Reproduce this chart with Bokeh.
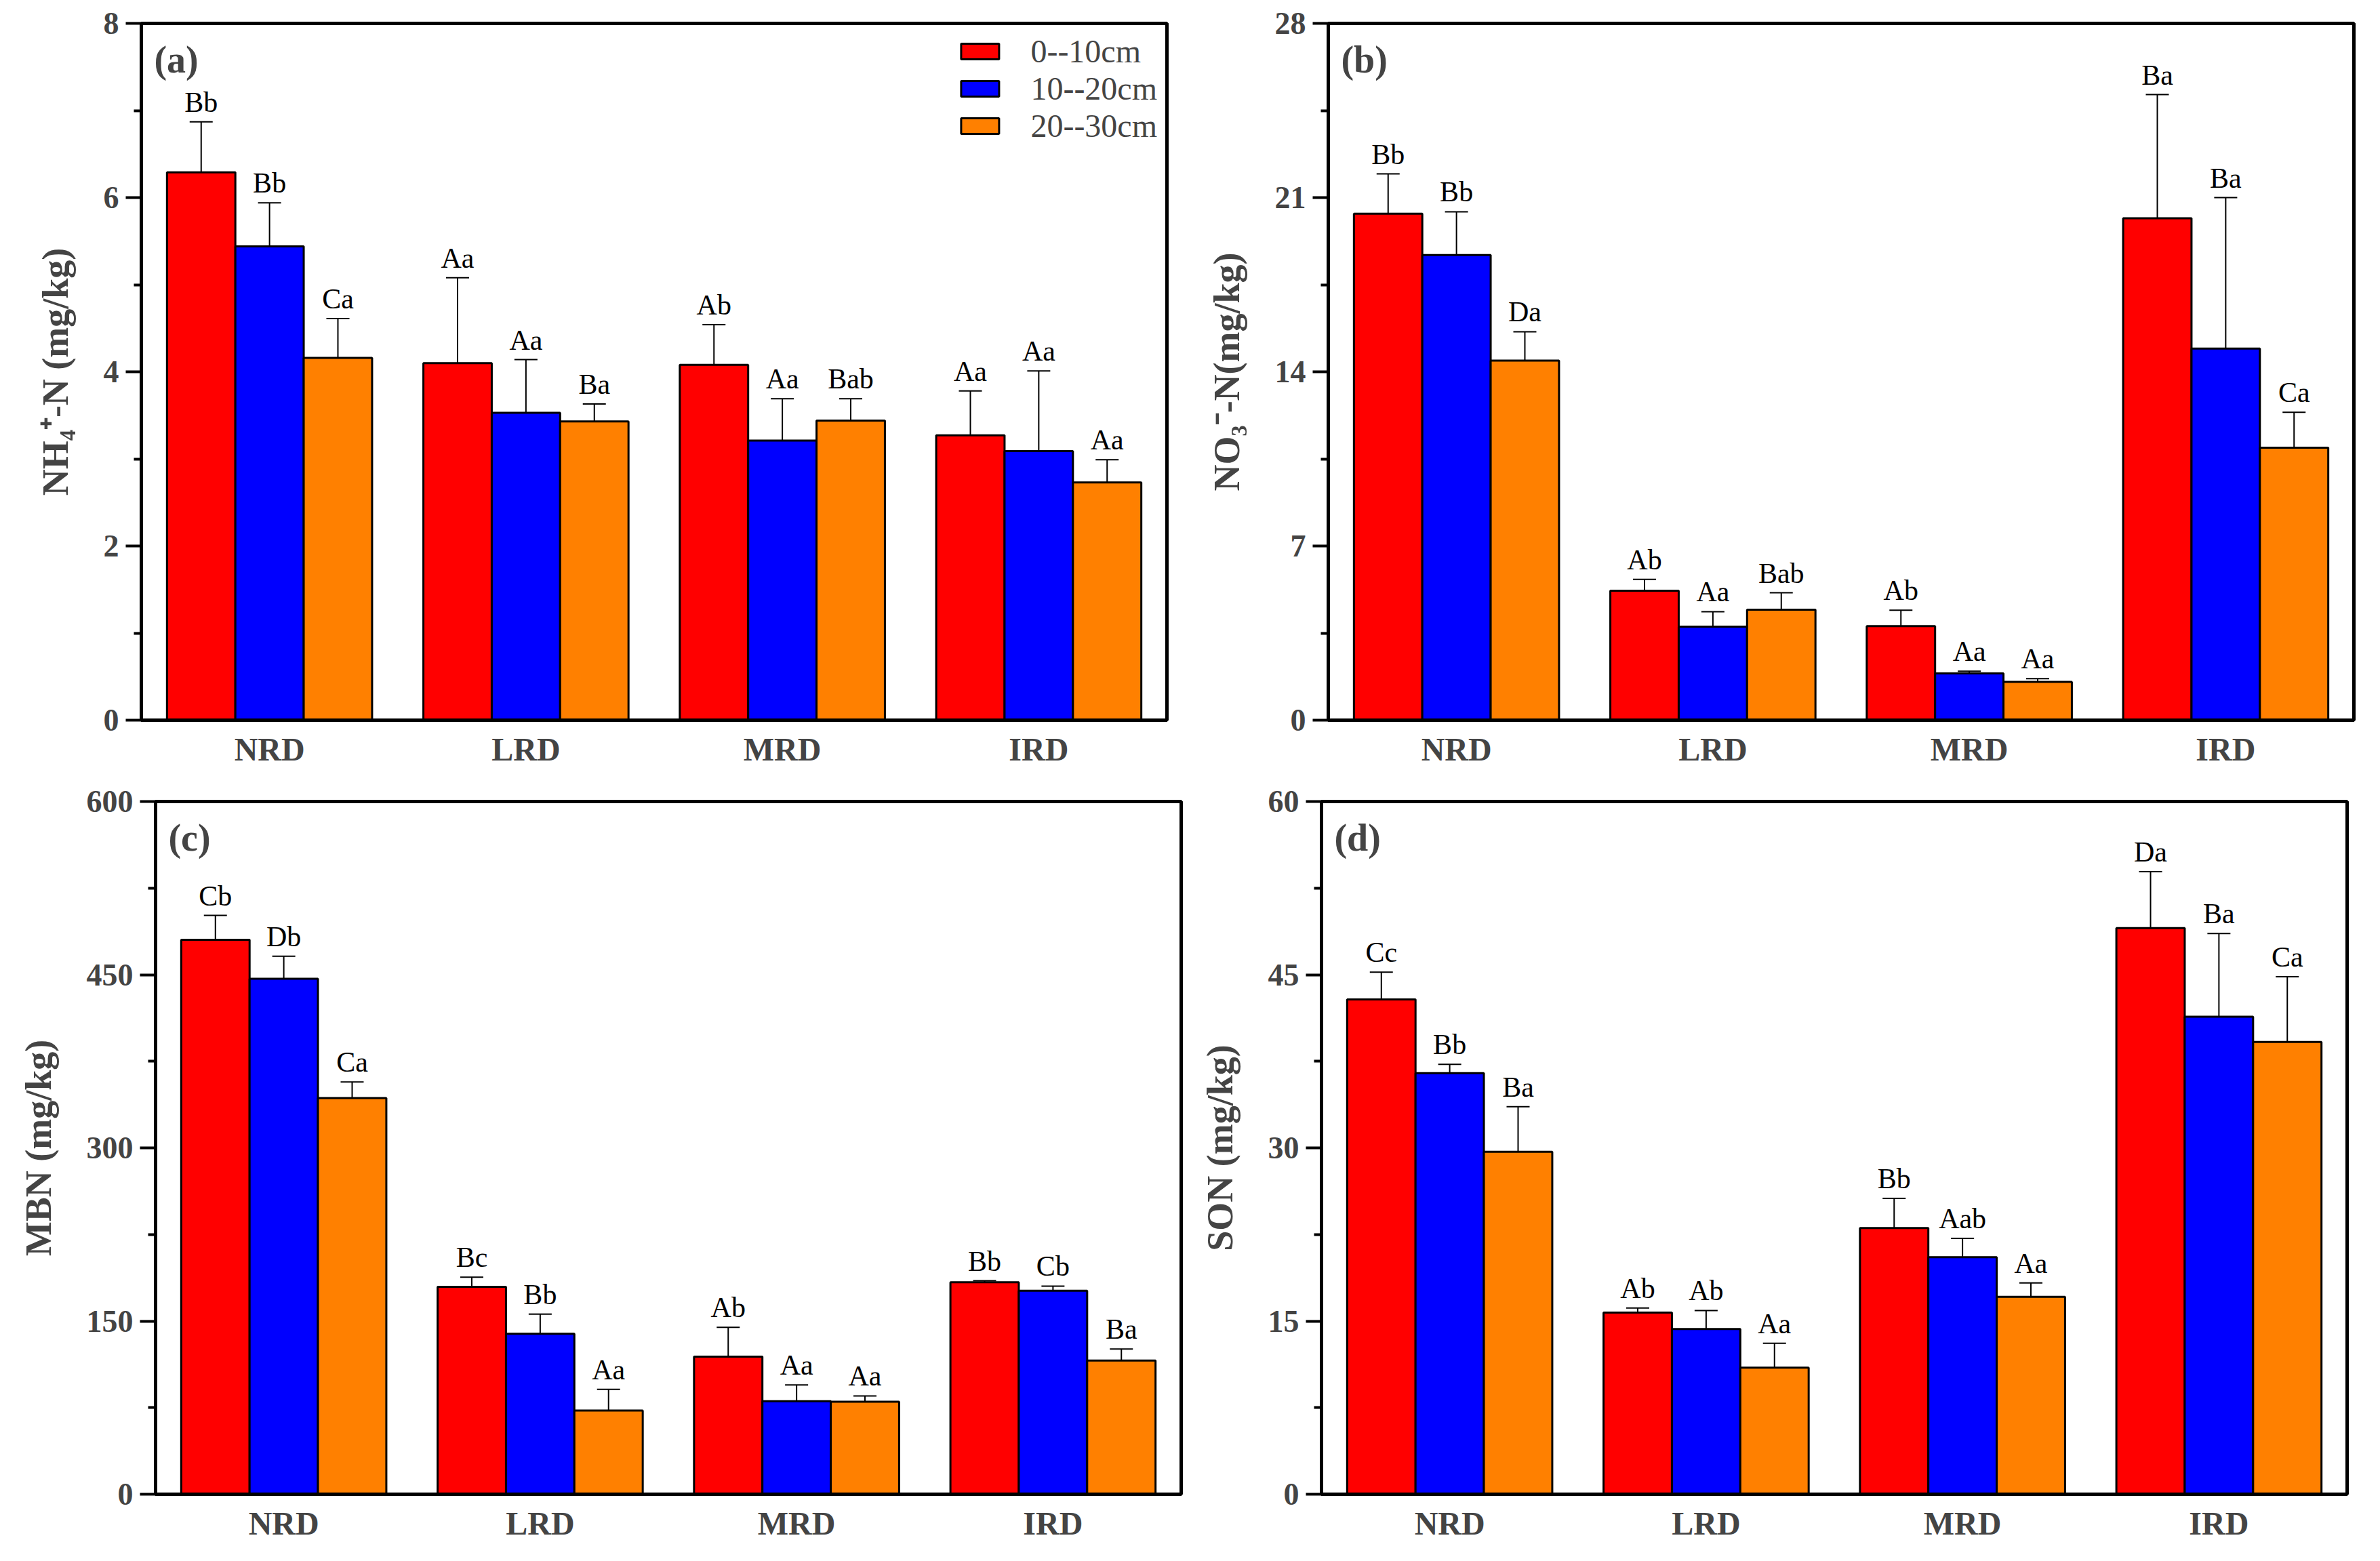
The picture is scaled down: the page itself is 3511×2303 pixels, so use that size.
from bokeh.plotting import figure
from bokeh.models import (Range1d, FixedTicker, ColumnDataSource, Whisker, TeeHead,
                          Label, Legend, LegendItem)
from bokeh.layouts import row, column
from bokeh.embed import file_html
from bokeh.resources import INLINE
from bokeh.core.properties import value

categories = ["NRD", "LRD", "MRD", "IRD"]
depths = ["0--10cm", "10--20cm", "20--30cm"]
colors = ["#FF0000", "#0000FF", "#FF8000"]

# (a) NH4+-N (mg/kg)
nh4_mean_0_10 = [6.29, 4.10, 4.08, 3.27]
nh4_mean_10_20 = [5.44, 3.53, 3.21, 3.09]
nh4_mean_20_30 = [4.16, 3.43, 3.44, 2.73]
nh4_err_0_10 = [0.58, 0.98, 0.46, 0.51]
nh4_err_10_20 = [0.50, 0.61, 0.48, 0.92]
nh4_err_20_30 = [0.45, 0.20, 0.25, 0.26]
nh4_lab_0_10 = ["Bb", "Aa", "Ab", "Aa"]
nh4_lab_10_20 = ["Bb", "Aa", "Aa", "Aa"]
nh4_lab_20_30 = ["Ca", "Ba", "Bab", "Aa"]

# (b) NO3-N (mg/kg)
no3_mean_0_10 = [20.35, 5.20, 3.78, 20.17]
no3_mean_10_20 = [18.69, 3.76, 1.88, 14.93]
no3_mean_20_30 = [14.45, 4.44, 1.54, 10.95]
no3_err_0_10 = [1.60, 0.46, 0.64, 4.97]
no3_err_10_20 = [1.74, 0.60, 0.09, 6.07]
no3_err_20_30 = [1.16, 0.68, 0.13, 1.42]
no3_lab_0_10 = ["Bb", "Ab", "Ab", "Ba"]
no3_lab_10_20 = ["Bb", "Aa", "Aa", "Ba"]
no3_lab_20_30 = ["Da", "Bab", "Aa", "Ca"]

# (c) MBN (mg/kg)
mbn_mean_0_10 = [480.3, 179.7, 119.2, 183.6]
mbn_mean_10_20 = [446.5, 139.0, 80.6, 176.3]
mbn_mean_20_30 = [343.1, 72.5, 80.2, 115.8]
mbn_err_0_10 = [21.0, 8.3, 25.3, 1.3]
mbn_err_10_20 = [19.5, 17.0, 14.0, 4.0]
mbn_err_20_30 = [14.0, 18.4, 5.0, 10.0]
mbn_lab_0_10 = ["Cb", "Bc", "Ab", "Bb"]
mbn_lab_10_20 = ["Db", "Bb", "Aa", "Cb"]
mbn_lab_20_30 = ["Ca", "Aa", "Aa", "Ba"]

# (d) SON (mg/kg)
son_mean_0_10 = [42.86, 15.73, 23.06, 49.03]
son_mean_10_20 = [36.47, 14.31, 20.53, 41.36]
son_mean_20_30 = [29.66, 10.97, 17.10, 39.17]
son_err_0_10 = [2.36, 0.40, 2.57, 4.90]
son_err_10_20 = [0.77, 1.60, 1.63, 7.20]
son_err_20_30 = [3.90, 2.10, 1.20, 5.65]
son_lab_0_10 = ["Cc", "Ab", "Bb", "Da"]
son_lab_10_20 = ["Bb", "Ab", "Aab", "Ba"]
son_lab_20_30 = ["Ba", "Aa", "Aa", "Ca"]

FONT = value("Liberation Serif")


def make_panel(means, errs, labels, ymax, ticks, minor, ylabel, letter,
               borders, frame_h, show_legend=False):
    bl, br, bt, bb = borders
    p = figure(frame_width=1513, frame_height=frame_h,
               min_border_left=bl, min_border_right=br,
               min_border_top=bt, min_border_bottom=bb,
               x_range=Range1d(0.5, 4.5), y_range=Range1d(0, ymax),
               output_backend="svg", toolbar_location=None, tools="")
    p.background_fill_color = "white"
    p.border_fill_color = "white"
    p.outline_line_color = "black"
    p.outline_line_width = 5
    p.xgrid.visible = False
    p.ygrid.visible = False

    w = 0.8 / 3
    renderers = []
    for k in range(3):
        xs = [i + 1 + (k - 1) * w for i in range(len(categories))]
        up = [m + e for m, e in zip(means[k], errs[k])]
        lo = [m - e for m, e in zip(means[k], errs[k])]
        src = ColumnDataSource(dict(x=xs, top=means[k], upper=up, lower=lo,
                                    lab=labels[k]))
        r = p.vbar(x="x", top="top", width=w, source=src, fill_color=colors[k],
                   line_color="black", line_width=3)
        renderers.append(r)
        wh = Whisker(base="x", upper="upper", lower="lower", source=src,
                     line_width=2, line_color="black",
                     upper_head=TeeHead(size=34, line_width=2, line_color="black"),
                     lower_head=TeeHead(size=34, line_width=2, line_color="black"))
        p.add_layout(wh)
        p.text(x="x", y="upper", text="lab", source=src, text_align="center",
               text_baseline="bottom", y_offset=-6, text_font=FONT,
               text_font_size="42px", text_color="black")

    # axes
    p.yaxis.ticker = FixedTicker(ticks=ticks, minor_ticks=minor)
    p.yaxis.axis_label = ylabel
    p.yaxis.axis_label_text_font = "Liberation Serif"
    p.yaxis.axis_label_text_font_style = "bold"
    p.yaxis.axis_label_text_font_size = "54px"
    p.yaxis.axis_label_standoff = 38
    p.yaxis.major_label_text_font = "Liberation Serif"
    p.yaxis.major_label_text_font_style = "bold"
    p.yaxis.major_label_text_font_size = "46px"
    p.yaxis.major_label_standoff = 10
    p.yaxis.major_tick_out = 23
    p.yaxis.major_tick_in = 0
    p.yaxis.minor_tick_out = 11
    p.yaxis.minor_tick_in = 0
    p.yaxis.major_tick_line_width = 4
    p.yaxis.minor_tick_line_width = 4
    p.yaxis.axis_line_width = 5

    p.xaxis.ticker = FixedTicker(ticks=[1, 2, 3, 4], minor_ticks=[])
    p.xaxis.major_label_overrides = {i + 1: c for i, c in enumerate(categories)}
    p.xaxis.major_label_text_font = "Liberation Serif"
    p.xaxis.major_label_text_font_style = "bold"
    p.xaxis.major_label_text_font_size = "48px"
    p.xaxis.major_label_standoff = 16
    p.xaxis.major_tick_out = 0
    p.xaxis.major_tick_in = 0
    p.xaxis.minor_tick_out = 0
    p.xaxis.minor_tick_in = 0
    p.xaxis.axis_line_width = 5

    p.add_layout(Label(x=0.55, y=ymax * 0.978, text=letter, text_font="Liberation Serif",
                       text_font_style="bold", text_font_size="56px",
                       text_baseline="top", text_align="left"))

    if show_legend:
        items = [LegendItem(label=d, renderers=[r]) for d, r in zip(depths, renderers)]
        lg = Legend(items=items, location="top_right")
        lg.label_text_font = "Liberation Serif"
        lg.label_text_font_size = "48px"
        lg.glyph_width = 70
        lg.glyph_height = 29
        lg.label_height = 29
        lg.label_standoff = 40
        lg.spacing = 0
        lg.padding = 14
        lg.margin = 0
        lg.border_line_alpha = 0
        lg.background_fill_alpha = 0
        p.add_layout(lg)
    return p


pa = make_panel([nh4_mean_0_10, nh4_mean_10_20, nh4_mean_20_30],
                [nh4_err_0_10, nh4_err_10_20, nh4_err_20_30],
                [nh4_lab_0_10, nh4_lab_10_20, nh4_lab_20_30],
                8, [0, 2, 4, 6, 8], [1, 3, 5, 7], "NH\u2084\u207a-N (mg/kg)", "(a)",
                (208, 21, 34, 80), 1028, show_legend=True)
pb = make_panel([no3_mean_0_10, no3_mean_10_20, no3_mean_20_30],
                [no3_err_0_10, no3_err_10_20, no3_err_20_30],
                [no3_lab_0_10, no3_lab_10_20, no3_lab_20_30],
                28, [0, 7, 14, 21, 28], [3.5, 10.5, 17.5, 24.5], "NO\u2083\u207b-N(mg/kg)", "(b)",
                (217, 15, 34, 80), 1028)
pc = make_panel([mbn_mean_0_10, mbn_mean_10_20, mbn_mean_20_30],
                [mbn_err_0_10, mbn_err_10_20, mbn_err_20_30],
                [mbn_lab_0_10, mbn_lab_10_20, mbn_lab_20_30],
                600, [0, 150, 300, 450, 600], [75, 225, 375, 525], "MBN (mg/kg)", "(c)",
                (229, 18, 37, 83), 1022)
pd_ = make_panel([son_mean_0_10, son_mean_10_20, son_mean_20_30],
                 [son_err_0_10, son_err_10_20, son_err_20_30],
                 [son_lab_0_10, son_lab_10_20, son_lab_20_30],
                 60, [0, 15, 30, 45, 60], [7.5, 22.5, 37.5, 52.5], "SON (mg/kg)", "(d)",
                 (189, 20, 40, 80), 1022)

layout = column(row(pa, pb), row(pc, pd_))
open("out.html", "w").write(file_html(layout, INLINE))
